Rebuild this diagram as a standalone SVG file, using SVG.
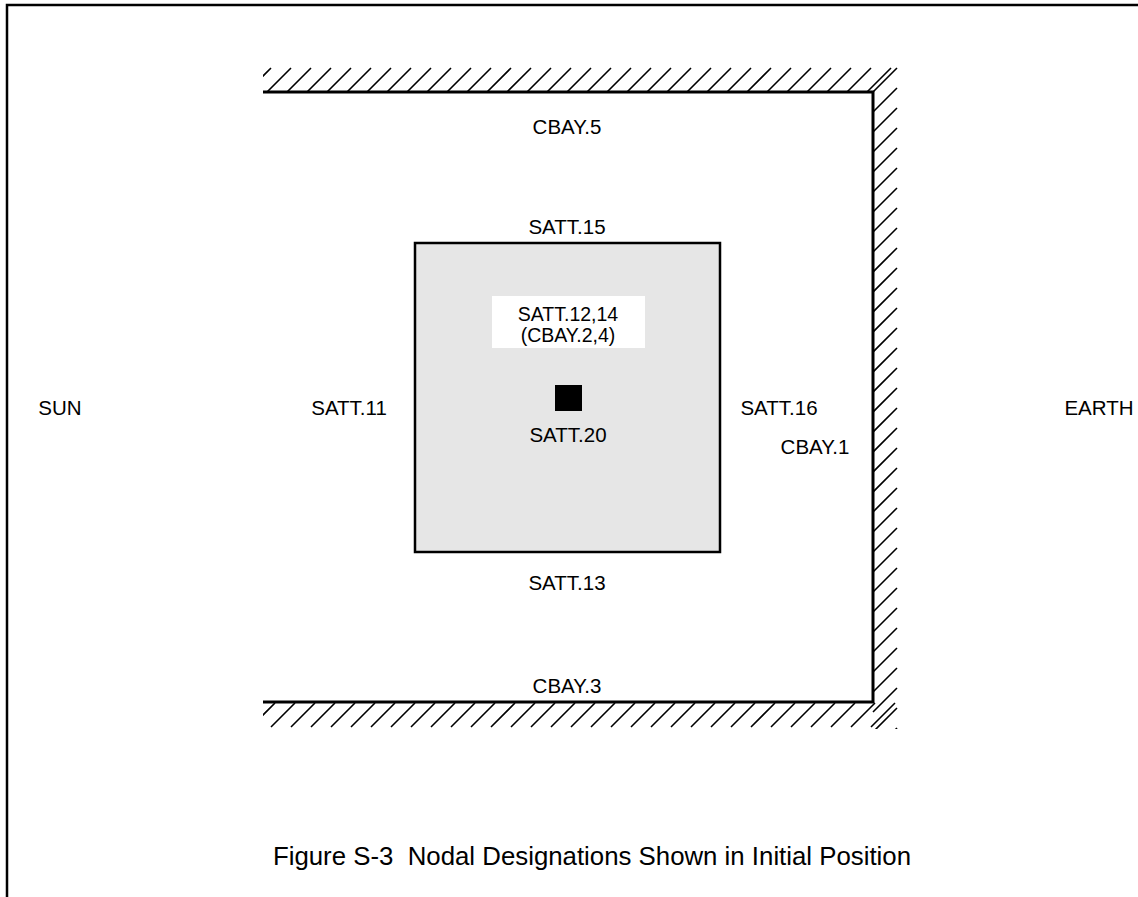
<svg xmlns="http://www.w3.org/2000/svg" width="1138" height="897" viewBox="0 0 1138 897">
<style>
.t{font-family:"Liberation Sans",Arial,Helvetica,sans-serif;font-size:20.5px;fill:#000;text-anchor:middle}
.s{font-size:19.5px}
.wall{stroke:#000;stroke-width:3;fill:none}
.hatch{stroke:#000;stroke-width:1.6;fill:none}
</style>
<defs>
<clipPath id="hclip">
<rect x="263" y="67" width="634" height="25"/>
<rect x="874" y="67" width="24" height="662"/>
<rect x="263" y="703" width="635" height="26"/>
</clipPath>
</defs>
<rect width="1138" height="897" fill="#fff"/>
<g id="frame">
<path d="M7,897 V5 H1138" stroke="#000" stroke-width="2.5" fill="none"/>
</g>
<g id="walls">
<path class="hatch" clip-path="url(#hclip)" d="M247,92l24,-24M267,92l24,-24M287,92l24,-24M307,92l24,-24M327,92l24,-24M347,92l24,-24M367,92l24,-24M387,92l24,-24M407,92l24,-24M427,92l24,-24M447,92l24,-24M467,92l24,-24M487,92l24,-24M507,92l24,-24M527,92l24,-24M547,92l24,-24M567,92l24,-24M587,92l24,-24M607,92l24,-24M627,92l24,-24M647,92l24,-24M667,92l24,-24M687,92l24,-24M707,92l24,-24M727,92l24,-24M747,92l24,-24M767,92l24,-24M787,92l24,-24M807,92l24,-24M827,92l24,-24M847,92l24,-24M867,92l24,-24
M873,92l24,-24M873,112l24,-24M873,132l24,-24M873,152l24,-24M873,172l24,-24M873,192l24,-24M873,212l24,-24M873,232l24,-24M873,252l24,-24M873,272l24,-24M873,292l24,-24M873,312l24,-24M873,332l24,-24M873,352l24,-24M873,372l24,-24M873,392l24,-24M873,412l24,-24M873,432l24,-24M873,452l24,-24M873,472l24,-24M873,492l24,-24M873,512l24,-24M873,532l24,-24M873,552l24,-24M873,572l24,-24M873,592l24,-24M873,612l24,-24M873,632l24,-24M873,652l24,-24M873,672l24,-24M873,692l24,-24M873,712l24,-24M873,732l24,-24M873,752l24,-24
M251,727l24,-24M271,727l24,-24M291,727l24,-24M311,727l24,-24M331,727l24,-24M351,727l24,-24M371,727l24,-24M391,727l24,-24M411,727l24,-24M431,727l24,-24M451,727l24,-24M471,727l24,-24M491,727l24,-24M511,727l24,-24M531,727l24,-24M551,727l24,-24M571,727l24,-24M591,727l24,-24M611,727l24,-24M631,727l24,-24M651,727l24,-24M671,727l24,-24M691,727l24,-24M711,727l24,-24M731,727l24,-24M751,727l24,-24M771,727l24,-24M791,727l24,-24M811,727l24,-24M831,727l24,-24M851,727l24,-24M871,727l24,-24"/>
<path class="wall" d="M263,92 H873 V702 H263"/>
</g>
<g id="satt-box">
<rect x="415" y="243" width="305" height="309" fill="#e6e6e6" stroke="#000" stroke-width="2.5"/>
</g>
<g id="satt-12-14">
<rect x="492" y="296" width="153" height="52" fill="#fff"/>
<text class="t s" x="568" y="320.5">SATT.12,14</text>
<text class="t s" x="568" y="342">(CBAY.2,4)</text>
</g>
<g id="satt-20">
<rect x="555" y="385" width="27" height="26" fill="#000"/>
<text class="t" x="568" y="442">SATT.20</text>
</g>
<g id="labels">
<text class="t" x="567" y="134">CBAY.5</text>
<text class="t" x="567" y="234">SATT.15</text>
<text class="t" x="60" y="415">SUN</text>
<text class="t" x="349" y="415">SATT.11</text>
<text class="t" x="779" y="415">SATT.16</text>
<text class="t" x="1099" y="415">EARTH</text>
<text class="t" x="815" y="454">CBAY.1</text>
<text class="t" x="567" y="590">SATT.13</text>
<text class="t" x="567" y="693">CBAY.3</text>
</g>
<g id="caption">
<text class="t" x="592" y="865" xml:space="preserve" style="font-size:25.8px">Figure S-3  Nodal Designations Shown in Initial Position</text>
</g>
</svg>
